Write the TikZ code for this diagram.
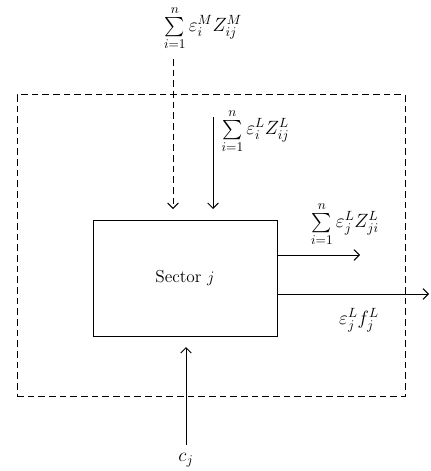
\documentclass[tikz,border=0pt]{standalone}
\usepackage{amsmath}
\usetikzlibrary{arrows.meta, positioning}
\tikzset{
    sectorbox/.style={draw, rectangle, minimum width=138pt, minimum height=87pt, line width=0.75pt, font=\fontsize{13}{15}\selectfont, inner sep=0pt},
    regionbox/.style={draw, rectangle, minimum width=291pt, minimum height=226pt, line width=0.75pt, dash pattern=on 5pt off 3pt, inner sep=0pt},
    flowarrow/.style={-{Straight Barb[length=4pt, width=8pt]}, line width=0.75pt},
    importarrow/.style={flowarrow, dash pattern=on 5pt off 3pt},
    flowlabel/.style={font=\Large, inner sep=1pt},
}
\begin{document}
\begin{tikzpicture}[x=0.75pt, y=-0.75pt, node distance=0.3cm]
    \useasboundingbox (0,0) rectangle (430,471);
    \node[regionbox] (region) at (211,245.5) {};
    \node[sectorbox] (sector) at (185,278) {Sector $j$};

    % imports and local inputs
    \node[flowlabel] (mimport) at (203,28) {$\sum\limits_{i=1}^{n}\varepsilon_i^M Z_{ij}^M$};
    \coordinate (mtop) at (173,59);
    \coordinate (mtip) at (173,209);
    \draw[importarrow] (mtop) -- (mtip);

    \coordinate (ltop) at (213,117);
    \coordinate (ltip) at (213,209);
    \draw[flowarrow] (ltop) -- (ltip);
    \node[flowlabel, anchor=west] (limport) at (220,131) {$\sum\limits_{i=1}^{n}\varepsilon_i^L Z_{ij}^L$};

    % outputs
    \coordinate (lend) at (360,255);
    \draw[flowarrow] (sector.east |- lend) -- (lend);
    \node[flowlabel] (lexport) at (345,224) {$\sum\limits_{i=1}^{n}\varepsilon_j^L Z_{ji}^L$};

    \coordinate (fend) at (429,294);
    \draw[flowarrow] (sector.east |- fend) -- (fend);
    \node[flowlabel] (final) at (359,320) {$\varepsilon_j^L f_j^L$};

    % primary input
    \node[flowlabel] (cost) at (186,460) {$c_j$};
    \coordinate (cbot) at (186,445);
    \coordinate (ctip) at (186,347);
    \draw[flowarrow] (cbot) -- (ctip);
\end{tikzpicture}
\end{document}
